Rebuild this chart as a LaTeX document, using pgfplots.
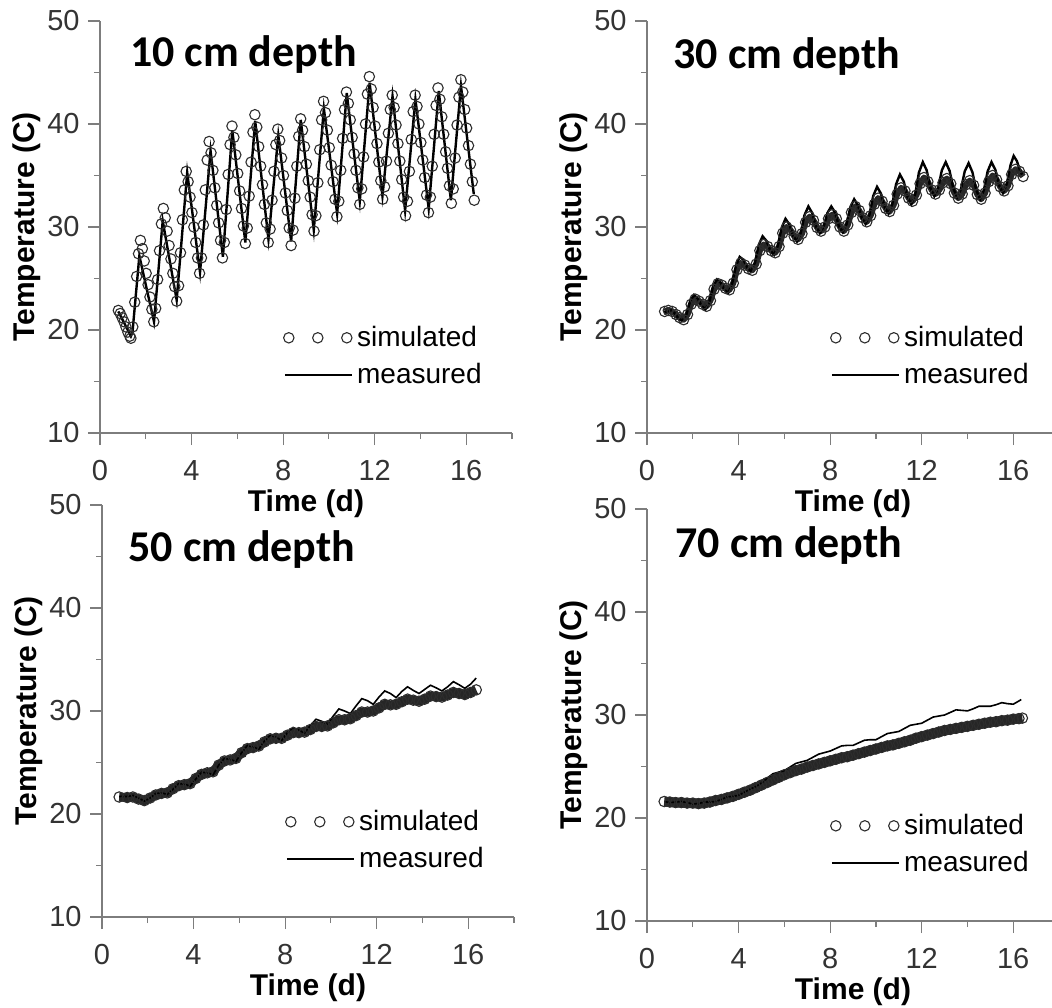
\documentclass[border=0pt]{standalone}
\usepackage{fontspec}
\setmainfont{Liberation Sans}
\newfontfamily\titlefont{Carlito}
\usepackage{pgfplots}
\usepackage{pgfplotstable}
\pgfplotsset{compat=1.18}
\definecolor{axgray}{RGB}{125,125,125}
\definecolor{simgray}{RGB}{45,45,45}

% ---- 10 cm ----
\pgfplotstableread[row sep=\\]{t v\\
0.800 21.9\\ 0.883 21.6\\ 0.967 21.2\\ 1.050 20.8\\ 1.133 20.3\\ 1.217 19.8\\ 1.300 19.4\\
1.350 19.2\\ 1.433 20.3\\ 1.517 22.7\\ 1.600 25.2\\ 1.683 27.4\\ 1.767 28.7\\ 1.850 27.9\\ 1.933 26.7\\ 2.017 25.5\\ 2.100 24.4\\ 2.183 23.2\\ 2.267 22.0\\
2.350 20.8\\ 2.433 22.1\\ 2.517 24.9\\ 2.600 27.7\\ 2.683 30.3\\ 2.767 31.8\\ 2.850 30.9\\ 2.933 29.6\\ 3.017 28.2\\ 3.100 26.9\\ 3.183 25.5\\ 3.267 24.2\\
3.350 22.8\\ 3.433 24.3\\ 3.517 27.5\\ 3.600 30.7\\ 3.683 33.6\\ 3.767 35.4\\ 3.850 34.4\\ 3.933 32.9\\ 4.017 31.4\\ 4.100 30.0\\ 4.183 28.5\\ 4.267 27.0\\
4.350 25.5\\ 4.433 27.0\\ 4.517 30.2\\ 4.600 33.6\\ 4.683 36.5\\ 4.767 38.3\\ 4.850 37.2\\ 4.933 35.5\\ 5.017 33.8\\ 5.100 32.1\\ 5.183 30.4\\ 5.267 28.7\\
5.350 27.0\\ 5.433 28.5\\ 5.517 31.7\\ 5.600 35.1\\ 5.683 38.0\\ 5.767 39.8\\ 5.850 38.7\\ 5.933 37.0\\ 6.017 35.2\\ 6.100 33.5\\ 6.183 31.8\\ 6.267 30.1\\
6.350 28.4\\ 6.433 29.9\\ 6.517 33.0\\ 6.600 36.3\\ 6.683 39.2\\ 6.767 40.9\\ 6.850 39.7\\ 6.933 37.8\\ 7.017 35.9\\ 7.100 34.1\\ 7.183 32.2\\ 7.267 30.4\\
7.350 28.5\\ 7.433 29.8\\ 7.517 32.6\\ 7.600 35.4\\ 7.683 38.0\\ 7.767 39.5\\ 7.850 38.4\\ 7.933 36.7\\ 8.017 35.0\\ 8.100 33.3\\ 8.183 31.6\\ 8.267 29.9\\
8.350 28.2\\ 8.433 29.7\\ 8.517 32.8\\ 8.600 35.9\\ 8.683 38.8\\ 8.767 40.5\\ 8.850 39.4\\ 8.933 37.8\\ 9.017 36.1\\ 9.100 34.5\\ 9.183 32.9\\ 9.267 31.2\\
9.350 29.6\\ 9.433 31.1\\ 9.517 34.3\\ 9.600 37.5\\ 9.683 40.4\\ 9.767 42.2\\ 9.850 41.1\\ 9.933 39.4\\ 10.017 37.7\\ 10.100 36.0\\ 10.183 34.4\\ 10.267 32.7\\
10.350 31.0\\ 10.433 32.5\\ 10.517 35.5\\ 10.600 38.6\\ 10.683 41.4\\ 10.767 43.1\\ 10.850 42.0\\ 10.933 40.4\\ 11.017 38.7\\ 11.100 37.1\\ 11.183 35.5\\ 11.267 33.8\\
11.350 32.2\\ 11.433 33.7\\ 11.517 36.8\\ 11.600 40.0\\ 11.683 42.9\\ 11.767 44.6\\ 11.850 43.4\\ 11.933 41.6\\ 12.017 39.8\\ 12.100 38.1\\ 12.183 36.3\\ 12.267 34.5\\
12.350 32.7\\ 12.433 33.9\\ 12.517 36.4\\ 12.600 39.1\\ 12.683 41.4\\ 12.767 42.8\\ 12.850 41.6\\ 12.933 39.9\\ 13.017 38.1\\ 13.100 36.4\\ 13.183 34.6\\ 13.267 32.9\\
13.350 31.1\\ 13.433 32.5\\ 13.517 35.4\\ 13.600 38.5\\ 13.683 41.2\\ 13.767 42.8\\ 13.850 41.7\\ 13.933 40.0\\ 14.017 38.2\\ 14.100 36.5\\ 14.183 34.8\\ 14.267 33.1\\
14.350 31.4\\ 14.433 32.9\\ 14.517 35.9\\ 14.600 39.0\\ 14.683 41.8\\ 14.767 43.5\\ 14.850 42.4\\ 14.933 40.7\\ 15.017 39.0\\ 15.100 37.3\\ 15.183 35.7\\ 15.267 34.0\\
15.350 32.3\\ 15.433 33.7\\ 15.517 36.7\\ 15.600 39.9\\ 15.683 42.6\\ 15.767 44.3\\ 15.850 43.1\\ 15.933 41.4\\ 16.017 39.6\\ 16.100 37.9\\ 16.183 36.1\\ 16.267 34.4\\ 16.350 32.6\\
}\simA
\pgfplotstableread[row sep=\\]{t v\\
0.80 21.8\\ 1.10 20.5\\ 1.35 19.4\\ 1.42 19.8\\ 1.72 27.2\\ 2.36 20.8\\ 2.74 30.6\\ 3.35 22.9\\
3.81 35.3\\ 4.37 25.6\\ 4.83 37.4\\ 5.37 27.1\\ 5.78 39.4\\ 6.35 28.5\\ 6.78 40.3\\ 7.36 28.8\\
7.79 38.9\\ 8.35 28.6\\ 8.77 40.4\\ 9.34 29.7\\ 9.78 41.5\\ 10.36 31.3\\ 10.78 43.0\\ 11.35 32.5\\
11.78 44.0\\ 12.34 33.0\\ 12.78 42.7\\ 13.33 31.6\\ 13.78 42.4\\ 14.36 31.8\\ 14.80 43.2\\ 15.33 32.6\\
15.77 43.7\\ 16.33 33.2\\
}\measA

% ---- 30 cm ----
\pgfplotstableread[row sep=\\]{t v\\
0.77 21.8\\ 0.93 21.9\\ 1.10 21.8\\ 1.27 21.5\\ 1.43 21.2\\ 1.60 21.0\\
1.77 21.5\\ 1.93 22.5\\ 2.10 23.0\\ 2.27 22.8\\ 2.43 22.5\\ 2.60 22.3\\
2.77 22.85\\ 2.93 23.95\\ 3.10 24.5\\ 3.27 24.35\\ 3.43 24.05\\ 3.60 23.9\\
3.77 24.55\\ 3.93 25.85\\ 4.10 26.5\\ 4.27 26.3\\ 4.43 25.95\\ 4.60 25.8\\
4.77 26.4\\ 4.93 27.7\\ 5.10 28.3\\ 5.27 28.1\\ 5.43 27.7\\ 5.60 27.5\\
5.77 28.1\\ 5.93 29.4\\ 6.10 30.0\\ 6.27 29.7\\ 6.43 29.1\\ 6.60 28.8\\
6.77 29.35\\ 6.93 30.45\\ 7.10 31.0\\ 7.27 30.65\\ 7.43 29.95\\ 7.60 29.6\\
7.77 30.0\\ 7.93 30.8\\ 8.10 31.2\\ 8.27 30.8\\ 8.43 30.0\\ 8.60 29.6\\
8.77 30.2\\ 8.93 31.4\\ 9.10 32.0\\ 9.27 31.6\\ 9.43 30.9\\ 9.60 30.5\\
9.77 31.1\\ 9.93 32.2\\ 10.10 32.8\\ 10.27 32.5\\ 10.43 31.8\\ 10.60 31.5\\
10.77 32.1\\ 10.93 33.2\\ 11.10 33.8\\ 11.27 33.5\\ 11.43 32.8\\ 11.60 32.5\\
11.77 33.1\\ 11.93 34.2\\ 12.10 34.8\\ 12.27 34.4\\ 12.43 33.6\\ 12.60 33.2\\
12.77 33.6\\ 12.93 34.3\\ 13.10 34.7\\ 13.27 34.2\\ 13.43 33.3\\ 13.60 32.8\\
13.77 33.2\\ 13.93 34.1\\ 14.10 34.5\\ 14.27 34.05\\ 14.43 33.15\\ 14.60 32.7\\
14.77 33.3\\ 14.93 34.4\\ 15.10 35.0\\ 15.27 34.6\\ 15.43 33.9\\ 15.60 33.5\\
15.77 34.0\\ 15.93 35.1\\ 16.10 35.6\\ 16.27 35.4\\ 16.43 34.9\\
}\simB
\pgfplotstableread[row sep=\\]{t v\\
0.75 21.7\\ 0.92 21.8\\ 1.05 21.9\\ 1.22 21.6\\ 1.38 21.1\\ 1.55 20.9\\
1.72 21.5\\ 1.88 22.8\\ 2.05 23.4\\ 2.22 23.05\\ 2.38 22.35\\ 2.55 22.0\\
2.72 22.7\\ 2.88 24.2\\ 3.05 24.9\\ 3.22 24.6\\ 3.38 23.9\\ 3.55 23.6\\
3.72 24.5\\ 3.88 26.2\\ 4.05 27.1\\ 4.22 26.8\\ 4.38 26.05\\ 4.55 25.7\\
4.72 26.55\\ 4.88 28.25\\ 5.05 29.1\\ 5.22 28.65\\ 5.38 27.75\\ 5.55 27.3\\
5.72 28.2\\ 5.88 29.9\\ 6.05 30.8\\ 6.22 30.25\\ 6.38 29.15\\ 6.55 28.6\\
6.72 29.45\\ 6.88 31.15\\ 7.05 32.0\\ 7.22 31.35\\ 7.38 30.05\\ 7.55 29.4\\
7.72 30.05\\ 7.88 31.35\\ 8.05 32.0\\ 8.22 31.4\\ 8.38 30.1\\ 8.55 29.5\\
8.72 30.3\\ 8.88 31.9\\ 9.05 32.7\\ 9.22 32.1\\ 9.38 30.9\\ 9.55 30.3\\
9.72 31.2\\ 9.88 33.0\\ 10.05 33.9\\ 10.22 33.25\\ 10.38 31.95\\ 10.55 31.3\\
10.72 32.25\\ 10.88 34.15\\ 11.05 35.1\\ 11.22 34.4\\ 11.38 32.9\\ 11.55 32.2\\
11.72 33.2\\ 11.88 35.3\\ 12.05 36.3\\ 12.22 35.5\\ 12.38 33.8\\ 12.55 33.0\\
12.72 33.8\\ 12.88 35.5\\ 13.05 36.3\\ 13.22 35.45\\ 13.38 33.75\\ 13.55 32.9\\
13.72 33.7\\ 13.88 35.4\\ 14.05 36.2\\ 14.22 35.3\\ 14.38 33.6\\ 14.55 32.7\\
14.72 33.6\\ 14.88 35.4\\ 15.05 36.3\\ 15.22 35.55\\ 15.38 34.05\\ 15.55 33.3\\
15.72 34.2\\ 15.88 36.0\\ 16.02 36.9\\ 16.16 36.4\\ 16.28 35.6\\ 16.40 35.0\\
}\measB

% ---- 50 cm ----
\pgfplotstableread[row sep=\\]{t v\\
0.75 21.65\\ 1.10 21.6\\ 1.35 21.65\\ 1.60 21.45\\ 1.85 21.3\\ 2.10 21.55\\ 2.35 21.85\\ 2.60 22.0\\
2.85 22.05\\ 3.10 22.45\\ 3.35 22.75\\ 3.60 22.85\\ 3.85 22.95\\ 4.10 23.45\\ 4.35 23.85\\ 4.60 24.0\\
4.85 24.1\\ 5.10 24.75\\ 5.35 25.15\\ 5.60 25.25\\ 5.85 25.4\\ 6.10 25.95\\ 6.35 26.35\\ 6.60 26.45\\
6.85 26.6\\ 7.10 27.0\\ 7.35 27.3\\ 7.60 27.35\\ 7.85 27.35\\ 8.10 27.65\\ 8.35 27.9\\ 8.60 27.9\\
8.85 27.95\\ 9.10 28.2\\ 9.35 28.5\\ 9.60 28.5\\ 9.85 28.55\\ 10.10 28.85\\ 10.35 29.15\\ 10.60 29.15\\
10.85 29.25\\ 11.10 29.55\\ 11.35 29.9\\ 11.60 29.9\\ 11.85 30.0\\ 12.10 30.3\\ 12.35 30.65\\ 12.60 30.6\\
12.85 30.65\\ 13.10 30.9\\ 13.35 31.15\\ 13.60 31.05\\ 13.85 30.95\\ 14.10 31.15\\ 14.35 31.45\\ 14.60 31.4\\
14.85 31.35\\ 15.10 31.55\\ 15.35 31.8\\ 15.60 31.7\\ 15.85 31.6\\ 16.10 31.8\\ 16.35 32.05\\
}\simC
\pgfplotstableread[row sep=\\]{t v\\
0.75 21.7\\ 1.10 21.7\\ 1.35 21.8\\ 1.60 21.55\\ 1.85 21.25\\ 2.10 21.55\\ 2.35 22.0\\ 2.60 22.05\\
2.85 21.9\\ 3.10 22.4\\ 3.35 22.95\\ 3.60 22.9\\ 3.85 22.7\\ 4.10 23.4\\ 4.35 24.05\\ 4.60 24.0\\
4.85 23.8\\ 5.10 24.75\\ 5.35 25.4\\ 5.60 25.3\\ 5.85 25.1\\ 6.10 25.95\\ 6.35 26.65\\ 6.60 26.5\\
6.85 26.3\\ 7.10 27.1\\ 7.35 27.65\\ 7.60 27.45\\ 7.85 27.15\\ 8.10 27.9\\ 8.35 28.4\\ 8.60 28.15\\
8.85 27.85\\ 9.10 28.6\\ 9.35 29.2\\ 9.60 29.0\\ 9.85 28.75\\ 10.10 29.5\\ 10.35 30.2\\ 10.60 30.0\\
10.85 29.75\\ 11.10 30.5\\ 11.35 31.2\\ 11.60 31.0\\ 11.85 30.65\\ 12.10 31.35\\ 12.35 31.95\\ 12.60 31.7\\
12.85 31.3\\ 13.10 31.9\\ 13.35 32.35\\ 13.60 32.0\\ 13.85 31.7\\ 14.10 32.1\\ 14.35 32.5\\ 14.60 32.25\\
14.85 31.95\\ 15.10 32.35\\ 15.35 32.85\\ 15.60 32.55\\ 15.85 32.2\\ 16.10 32.6\\ 16.35 33.2\\
}\measC

% ---- 70 cm ----
\pgfplotstableread[row sep=\\]{t v\\
0.75 21.6\\ 1.00 21.55\\ 1.25 21.5\\ 1.50 21.5\\ 1.75 21.45\\ 2.00 21.45\\ 2.25 21.4\\ 2.50 21.45\\
2.75 21.55\\ 3.00 21.7\\ 3.25 21.8\\ 3.50 21.95\\ 3.75 22.1\\ 4.00 22.3\\ 4.25 22.5\\ 4.50 22.7\\
4.75 22.95\\ 5.00 23.2\\ 5.25 23.45\\ 5.50 23.7\\ 5.75 23.95\\ 6.00 24.2\\ 6.25 24.4\\ 6.50 24.6\\
6.75 24.75\\ 7.00 24.95\\ 7.25 25.1\\ 7.50 25.25\\ 7.75 25.4\\ 8.00 25.55\\ 8.25 25.7\\ 8.50 25.85\\
8.75 25.95\\ 9.00 26.1\\ 9.25 26.25\\ 9.50 26.4\\ 9.75 26.55\\ 10.00 26.7\\ 10.25 26.85\\ 10.50 27.0\\
10.75 27.1\\ 11.00 27.25\\ 11.25 27.4\\ 11.50 27.55\\ 11.75 27.75\\ 12.00 27.9\\ 12.25 28.05\\ 12.50 28.2\\
12.75 28.35\\ 13.00 28.5\\ 13.25 28.6\\ 13.50 28.7\\ 13.75 28.8\\ 14.00 28.9\\ 14.25 29.0\\ 14.50 29.1\\
14.75 29.2\\ 15.00 29.3\\ 15.25 29.35\\ 15.50 29.45\\ 15.75 29.5\\ 16.00 29.6\\ 16.25 29.65\\ 16.40 29.7\\
}\simD
\pgfplotstableread[row sep=\\]{t v\\
0.75 21.6\\ 1.00 21.5\\ 1.25 21.55\\ 1.50 21.6\\ 1.75 21.5\\ 2.00 21.35\\ 2.25 21.4\\ 2.50 21.55\\
2.75 21.55\\ 3.00 21.6\\ 3.25 21.8\\ 3.50 22.05\\ 3.75 22.1\\ 4.00 22.2\\ 4.25 22.5\\ 4.50 22.8\\
4.75 23.05\\ 5.00 23.4\\ 5.25 23.85\\ 5.50 24.3\\ 5.75 24.45\\ 6.00 24.6\\ 6.25 24.95\\ 6.50 25.3\\
6.75 25.45\\ 7.00 25.6\\ 7.25 25.9\\ 7.50 26.2\\ 7.75 26.35\\ 8.00 26.5\\ 8.25 26.75\\ 8.50 27.0\\
8.75 27.05\\ 9.00 27.05\\ 9.25 27.3\\ 9.50 27.55\\ 9.75 27.6\\ 10.00 27.6\\ 10.25 27.9\\ 10.50 28.2\\
10.75 28.3\\ 11.00 28.4\\ 11.25 28.7\\ 11.50 29.0\\ 11.75 29.1\\ 12.00 29.2\\ 12.25 29.5\\ 12.50 29.8\\
12.75 29.9\\ 13.00 30.0\\ 13.25 30.25\\ 13.50 30.5\\ 13.75 30.45\\ 14.00 30.4\\ 14.25 30.6\\ 14.50 30.85\\
14.75 30.85\\ 15.00 30.85\\ 15.25 31.0\\ 15.50 31.2\\ 15.75 31.1\\ 16.00 31.05\\ 16.20 31.3\\ 16.35 31.5\\
}\measD

\pgfplotsset{
  depthpanel/.style={
    scale only axis, width=206pt, height=206pt,
    xmin=0, xmax=18, ymin=10, ymax=50,
    axis lines=left,
    axis line style={-, draw=axgray, line width=0.6pt},
    xtick={0,4,8,12,16}, minor xtick={2,6,10,14,18},
    ytick={10,20,30,40,50}, minor ytick={15,25,35,45},
    tick align=outside, major tick length=6pt, minor tick length=3pt,
    every tick/.style={draw=axgray, line width=0.6pt},
    /pgf/number format/assume math mode=true,
    tick label style={font=\fontsize{14.5}{17}\selectfont, text=black!80},
    xticklabel style={anchor=north, inner sep=0pt, yshift=-7.5pt},
    yticklabel style={anchor=east, inner sep=0pt, xshift=-4pt},
    xlabel={Time (d)}, ylabel={Temperature (C)},
    every axis x label/.style={at={(axis description cs:0.5,-0.136)}, anchor=north,
      inner sep=0pt, font=\fontsize{15}{18}\selectfont\bfseries},
    every axis y label/.style={at={(axis description cs:-0.177,0.5)}, rotate=90,
      anchor=center, inner sep=0pt, font=\fontsize{15}{18}\selectfont\bfseries},
    legend style={at={(axis cs:8,20.8)}, anchor=north west, draw=none, fill=none,
      inner sep=0pt, font=\fontsize{14}{16}\selectfont, row sep=3pt},
    legend cell align=left,
  },
  sim/.style={only marks, mark=o, mark size=2.6pt, draw=simgray,
    mark options={line width=0.55pt, draw=simgray},
    legend image code/.code={\draw[##1] plot coordinates {(3pt,0pt)(17.5pt,0pt)(32pt,0pt)};}},
  band/.style={forget plot, no marks, draw=black!85, line width=#1, line join=round},
  meas/.style={no marks, black, line width=#1,
    legend image code/.code={\draw[black, line width=1.3pt] (1pt,0pt) -- (34.5pt,0pt);}},
}

\newcommand{\paneltitle}[2]{\node[anchor=base west, inner sep=0pt,
  font=\titlefont\bfseries\fontsize{22}{26}\selectfont] at (#1) {#2};}

\begin{document}
\begin{tikzpicture}
\path[use as bounding box] (0,0) rectangle (526pt,503.5pt);

\begin{axis}[depthpanel, at={(50pt,287pt)}, anchor=south west]
\addplot[sim] table[x=t,y=v] {\simA};
\addplot[meas=1.2pt] table[x=t,y=v] {\measA};
\legend{simulated, measured}
\paneltitle{axis cs:1.3,45.6}{10 cm depth}
\end{axis}

\begin{axis}[depthpanel, at={(323.5pt,287pt)}, anchor=south west]
\addplot[band=3pt] table[x=t,y=v] {\simB};
\addplot[sim] table[x=t,y=v] {\simB};
\addplot[meas=1.2pt] table[x=t,y=v] {\measB};
\legend{simulated, measured}
\paneltitle{axis cs:1.14,45.35}{30 cm depth}
\end{axis}

\begin{axis}[depthpanel, at={(51pt,45pt)}, anchor=south west]
\addplot[band=4.5pt] table[x=t,y=v] {\simC};
\addplot[sim] table[x=t,y=v] {\simC};
\addplot[meas=0.8pt] table[x=t,y=v] {\measC};
\legend{simulated, measured}
\paneltitle{axis cs:1.14,44.5}{50 cm depth}
\end{axis}

\begin{axis}[depthpanel, at={(323.5pt,43pt)}, anchor=south west]
\addplot[band=5pt] table[x=t,y=v] {\simD};
\addplot[sim] table[x=t,y=v] {\simD};
\addplot[meas=0.8pt] table[x=t,y=v] {\measD};
\legend{simulated, measured}
\paneltitle{axis cs:1.23,45.25}{70 cm depth}
\end{axis}
\end{tikzpicture}
\end{document}
